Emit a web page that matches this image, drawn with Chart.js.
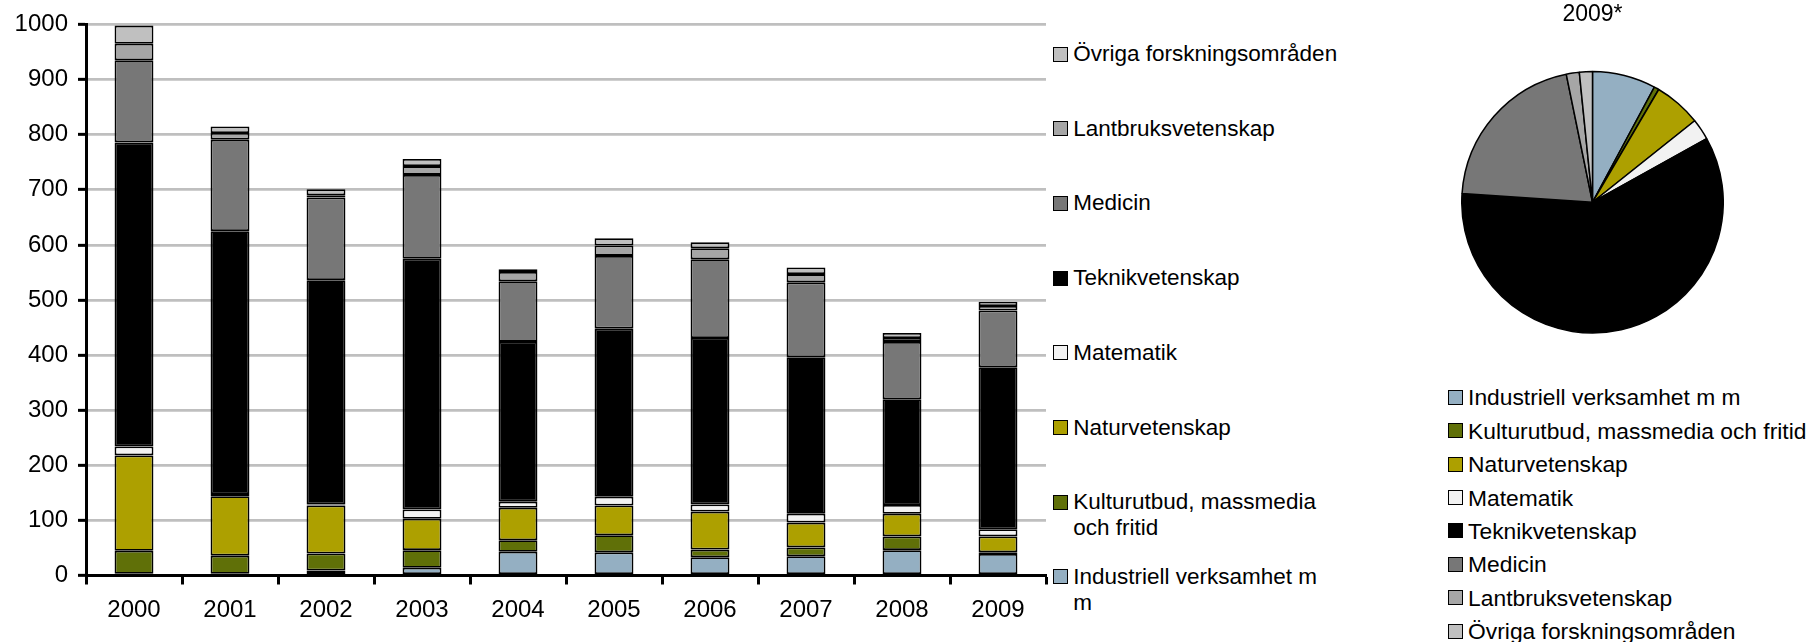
<!DOCTYPE html>
<html>
<head>
<meta charset="utf-8">
<script src="https://cdn.jsdelivr.net/npm/chart.js@4/dist/chart.umd.min.js"></script>
<style>
  html, body { margin:0; padding:0; background:#fff; width:1814px; height:642px; overflow:hidden;
    font-family:"Liberation Sans", Arial, sans-serif; color:#000; }
  #barWrap { position:absolute; left:0; top:0; width:1050px; height:642px; }
  #pieWrap { position:absolute; left:1461px; top:0; width:263px; height:334px; }
  .legend { position:absolute; }
  .item { position:absolute; left:0; }
  .sw { position:absolute; left:0; width:13px; height:13px; border:1px solid #000; }
  .txt { position:absolute; left:20.6px; line-height:26px; }
  #barLegend .txt { font-size:22.5px; width:266px; }
  #pieLegend .txt { font-size:22.8px; white-space:nowrap; }
</style>
</head>
<body>
<div id="barWrap"><canvas id="bar"></canvas></div>
<div id="pieWrap"><canvas id="pie"></canvas></div>
<div id="barLegend" class="legend" style="left:1052.7px; top:0;"></div>
<div id="pieLegend" class="legend" style="left:1447.5px; top:0;"></div>
<script>
// ---- data ----
const years = ['2000','2001','2002','2003','2004','2005','2006','2007','2008','2009'];
const seriesNames = [
  'Industriell verksamhet m m',
  'Kulturutbud, massmedia och fritid',
  'Naturvetenskap',
  'Matematik',
  'Teknikvetenskap',
  'Medicin',
  'Lantbruksvetenskap',
  'Övriga forskningsområden'
];
const industriell = [3, 3, 9, 14, 43, 42, 33, 35, 46, 39];
const kultur      = [42, 33, 31, 32, 21, 31, 14, 16, 25, 3];
const natur       = [173, 108, 87, 57, 59, 54, 69, 45, 41, 29];
const matematik   = [16, 4, 2, 17, 11, 16, 13, 16, 16, 13];
const teknik      = [552, 477, 407, 455, 290, 305, 302, 284, 192, 294];
const medicin     = [149, 166, 150, 152, 110, 132, 143, 136, 104, 103];
const lantbruk    = [30, 12, 4, 16, 17, 19, 20, 15, 7, 8];
const ovriga      = [33, 12, 11, 13, 5, 13, 11, 12, 9, 8];
const pieTitle = '2009*';
const pieYear = '2009';

// ---- styles ----
const seriesColors = ['#94AFC2', '#607008', '#ADA000', '#F2F2F2', '#000000', '#777777', '#A6A6A6', '#C0C0C0'];
const FONT = '"Liberation Sans", Arial, sans-serif';

const seriesData = [industriell, kultur, natur, matematik, teknik, medicin, lantbruk, ovriga];

new Chart(document.getElementById('bar'), {
  type: 'bar',
  data: {
    labels: years,
    datasets: seriesNames.map((name, i) => ({
      label: name,
      data: seriesData[i],
      backgroundColor: seriesColors[i],
      borderColor: '#000',
      borderWidth: 1.8,
      borderSkipped: false,
      categoryPercentage: 1,
      barPercentage: 0.405
    }))
  },
  options: {
    responsive: true,
    maintainAspectRatio: false,
    animation: false,
    layout: { padding: { top: 24.5, right: 4, bottom: 0, left: 0 } },
    plugins: { legend: { display: false }, tooltip: { enabled: false } },
    scales: {
      x: {
        stacked: true,
        grid: { display: true, drawOnChartArea: false, drawTicks: true, tickLength: 9, tickColor: '#000', tickWidth: 3, offset: true },
        border: { display: true, color: '#000', width: 3 },
        ticks: { color: '#000', font: { family: FONT, size: 24 }, padding: 11, maxRotation: 0 },
        afterFit(s) { s.height = 66.5; }
      },
      y: {
        stacked: true,
        min: 0,
        max: 1000,
        ticks: { stepSize: 100, color: '#000', font: { family: FONT, size: 24 }, padding: 10,
                 callback: v => String(v) },
        grid: { color: '#BFBFBF', lineWidth: 2.7, tickColor: '#000', tickLength: 8, tickWidth: 3 },
        border: { display: true, color: '#000', width: 3 },
        afterFit(s) { s.width = 86; }
      }
    }
  }
});

const pieIndex = years.indexOf(pieYear);
new Chart(document.getElementById('pie'), {
  type: 'pie',
  data: {
    labels: seriesNames,
    datasets: [{
      data: seriesData.map(arr => arr[pieIndex]),
      backgroundColor: seriesColors,
      borderColor: '#000',
      borderWidth: 1.5
    }]
  },
  options: {
    responsive: true,
    maintainAspectRatio: false,
    animation: false,
    layout: { padding: 0 },
    plugins: {
      legend: { display: false },
      tooltip: { enabled: false },
      title: { display: true, text: pieTitle, color: '#000', font: { family: FONT, size: 23, weight: 'normal' }, padding: { top: 0.5, bottom: 42.4 } }
    }
  }
});

// ---- HTML legends ----
function addItem(container, idx, centerY) {
  const it = document.createElement('div');
  it.className = 'item';
  it.style.top = (centerY - 13) + 'px';
  const sw = document.createElement('div');
  sw.className = 'sw';
  sw.style.top = '5.5px';
  sw.style.background = seriesColors[idx];
  const tx = document.createElement('div');
  tx.className = 'txt';
  tx.textContent = seriesNames[idx];
  it.appendChild(sw); it.appendChild(tx);
  container.appendChild(it);
}
const barLeg = document.getElementById('barLegend');
for (let k = 0; k < seriesNames.length; k++) {
  addItem(barLeg, seriesNames.length - 1 - k, 54 + k * 74.7);
}
const pieLeg = document.getElementById('pieLegend');
for (let k = 0; k < seriesNames.length; k++) {
  addItem(pieLeg, k, 397.3 + k * 33.4);
}
</script>
</body>
</html>
